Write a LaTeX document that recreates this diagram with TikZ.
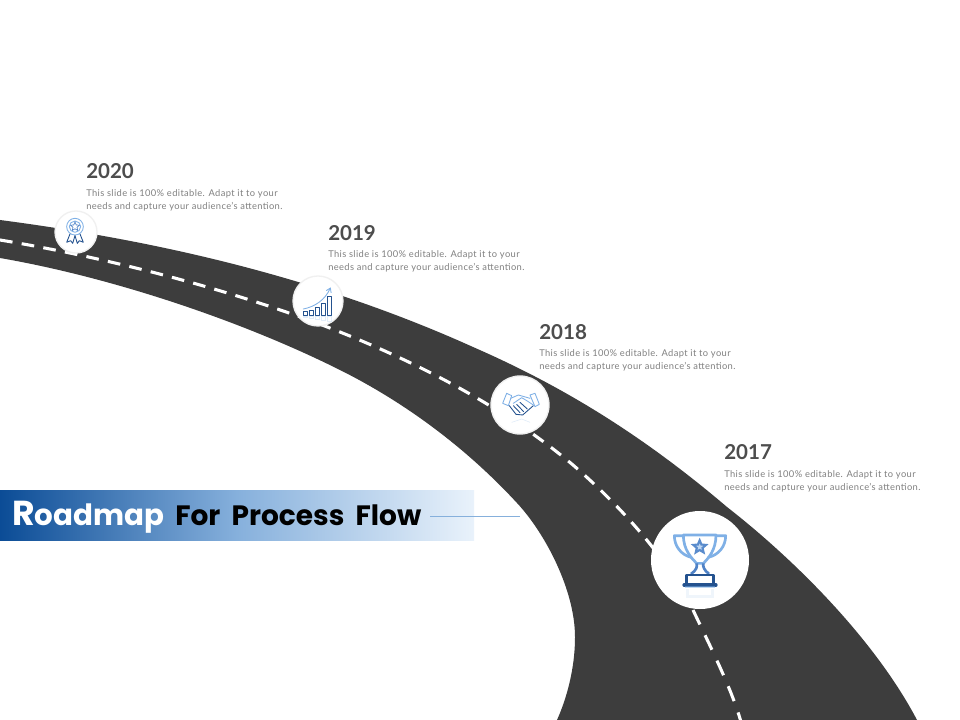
\documentclass[tikz,border=0pt]{standalone}
\usepackage{fontspec}
\setmainfont{Lato}
\newfontfamily\titlefont{Poppins}
\newfontfamily\blurbfont[LetterSpace=4]{Lato}
\usetikzlibrary{shapes.geometric,arrows.meta}
\definecolor{road}{HTML}{3D3D3D}
\definecolor{yeartxt}{HTML}{4D4D4D}
\definecolor{bodytxt}{HTML}{808080}
\definecolor{icondark}{HTML}{24528F}
\definecolor{iconmid}{HTML}{4F82C6}
\definecolor{iconlight}{HTML}{7FB0E6}
\definecolor{barleft}{HTML}{0B4C96}
\definecolor{barmid}{HTML}{86B0DC}
\definecolor{barright}{HTML}{E9F2FB}
\tikzset{
  x=0.75pt,y=-0.75pt,
  year/.style={anchor=west,inner sep=0,font=\fontsize{15.4}{17}\selectfont\bfseries,text=yeartxt},
  blurb/.style={anchor=north west,inner sep=0,align=left,font=\blurbfont\fontsize{7}{9.7}\selectfont,text=bodytxt},
  medal/.style={circle,fill=white,draw=black!6,line width=1pt,inner sep=0},
  icn/.style={line width=0.65pt,draw=icondark,line join=round,line cap=round},
  icl/.style={line width=0.65pt,draw=iconlight,line join=round,line cap=round},
  zoomed/.style={x=0.25pt,y=-0.25pt},
}
\begin{document}
\begin{tikzpicture}
\useasboundingbox (0,0) rectangle (960,720);
\fill[white] (0,0) rectangle (960,720);
% road
\fill[road] (0,220) .. controls (160,241) and (320,278) .. (473,347)
  .. controls (560,385) and (640,433) .. (727,507)
  .. controls (795,560) and (875,640) .. (917,720)
  -- (557,720) .. controls (566,700) and (575,670) .. (575,637)
  .. controls (575,590) and (545,533) .. (517,503)
  .. controls (470,452) and (410,405) .. (340,370)
  .. controls (240,320) and (110,277) .. (0,258) -- cycle;
% centre line
\draw[white,line width=2.3pt,dash pattern=on 9.5pt off 7pt]
  (0,240) .. controls (110,258) and (240,292) .. (340,332)
  .. controls (430,368) and (510,412) .. (573,465)
  .. controls (625,510) and (668,560) .. (693,610);
\draw[white,line width=2.3pt,dash pattern=on 12pt off 9pt]
  (693,610) .. controls (712,650) and (732,690) .. (741,722);
% title band
\shade[left color=barleft,right color=barright,middle color=barmid]
  (0,490) rectangle (474,540);
\node[anchor=base west,inner sep=0,font=\titlefont\fontsize{26}{28}\selectfont\bfseries,text=white] (ttl) at (12,525) {R\fontsize{22}{28}\selectfont oadmap};
\node[anchor=base west,inner sep=0,font=\titlefont\fontsize{21}{28}\selectfont\bfseries,text=black] (ttb) at (175,525) {For\hspace{4pt} Process\hspace{4pt} Flow};
\coordinate (lineend) at (520,516);
\coordinate (linestart) at (430,516);
\draw[draw=barmid,line width=0.6pt] (linestart) -- (lineend);
% medals
\node[medal,minimum size=31.5pt] (m20) at (76,232) {};
\node[medal,minimum size=37.5pt] (m19) at (318,301) {};
\node[medal,minimum size=43.5pt] (m18) at (520,405) {};
\node[medal,minimum size=73.5pt,draw=none] (m17) at (700,560) {};
% text
\node[year] (y20) at (86,171) {2020};
\node[blurb] (b20) at (86,189) {This slide is 100\% editable. Adapt it to your\\needs and capture your audience’s attention.};
\node[year] (y19) at (328,233) {2019};
\node[blurb] (b19) at (328,250) {This slide is 100\% editable. Adapt it to your\\needs and capture your audience’s attention.};
\node[year] (y18) at (539,332) {2018};
\node[blurb] (b18) at (539,349) {This slide is 100\% editable. Adapt it to your\\needs and capture your audience’s attention.};
\node[year] (y17) at (724,452) {2017};
\node[blurb] (b17) at (724,470) {This slide is 100\% editable. Adapt it to your\\needs and capture your audience’s attention.};
% rosette icon
\begin{scope}[shift={(50,205)},zoomed]
  \draw[icl] (75,65) circle (25);
  \draw[icl] (75,65) circle (17);
  \node[star,star points=5,star point ratio=2.2,draw=iconmid,line width=0.5pt,minimum size=7pt,inner sep=0] (s20) at (75,65) {};
  \draw[icn] (60,87) -- (50,112) -- (62,107) -- (68,115) -- (75,92);
  \draw[icn] (90,87) -- (100,112) -- (88,107) -- (82,115) -- (75,92);
\end{scope}
% chart icon
\begin{scope}[shift={(280,260)},zoomed]
  \foreach \a/\b in {70/155,88/150,105/142,123/130,142/110}{
    \draw[icn,line width=0.75pt] (\a,165) rectangle (\a+12,\b);}
  \draw[icl,-{Straight Barb[length=3pt,width=4pt]}] (70,147) .. controls (105,140) and (135,120) .. (152,82);
  \foreach \a/\b in {70/172,88/175,105/178,123/180,142/185}{
    \draw[iconlight,opacity=.22,line width=0.6pt] (\a,170) rectangle (\a+12,\b);}
\end{scope}
% handshake icon
\begin{scope}[shift={(480,365)},zoomed]
  \draw[icl] (68,115) -- (80,85) -- (95,92) -- (85,122) -- cycle;
  \draw[icl] (150,90) -- (165,85) -- (178,118) -- (165,125) -- cycle;
  \draw[icl] (92,100) -- (115,90) -- (150,100);
  \draw[icl] (100,115) -- (125,98) -- (142,108) -- (160,120);
  \draw[icn] (88,122) -- (108,148) -- (128,150) -- (160,122);
  \draw[icn] (100,122) -- (120,143);
  \draw[icn] (110,118) -- (131,140);
  \draw[icn] (120,112) -- (142,132);
  \draw[iconlight,opacity=.25] (95,172) -- (125,162) -- (150,172);
\end{scope}
% trophy icon
\begin{scope}[shift={(640,500)},zoomed]
  \draw[icl,line width=2pt] (130,105) -- (228,105) .. controls (228,150) and (205,175) .. (190,190)
     -- (170,190) .. controls (155,175) and (130,150) .. (130,105);
  \draw[icl,line width=2pt] (130,107) -- (103,107) .. controls (103,140) and (125,165) .. (153,172);
  \draw[icl,line width=2pt] (228,107) -- (257,107) .. controls (257,140) and (235,165) .. (205,172);
  \node[star,star points=5,star point ratio=2.2,draw=iconmid!80!iconlight,fill=iconlight!50,line width=1.6pt,minimum size=10pt,inner sep=0] (s17) at (179,141) {};
  \draw[iconmid,line width=2pt] (170,190) .. controls (172,200) and (170,210) .. (153,222);
  \draw[iconmid,line width=2pt] (190,190) .. controls (188,200) and (192,210) .. (207,222);
  \draw[icn,line width=2pt] (140,254) -- (140,225) -- (220,225) -- (220,254);
  \draw[icn,line width=2.4pt] (132,255) -- (228,255);
  \fill[iconlight,opacity=.5] (134,259) rectangle (226,264);
  \draw[iconlight,opacity=.12,line width=2pt] (142,268) -- (142,290) -- (218,290) -- (218,268);
\end{scope}
\end{tikzpicture}
\end{document}
